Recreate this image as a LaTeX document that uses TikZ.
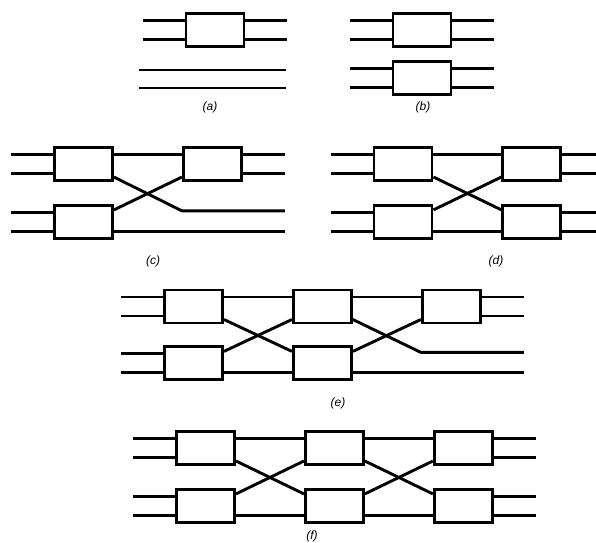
\documentclass[tikz,border=0pt]{standalone}
\usepackage{fontspec}
\setmainfont{Liberation Sans}
\usetikzlibrary{positioning, calc}

\begin{document}
\begin{tikzpicture}[
    x=1pt, y=1pt,
    wire/.style={line width=2.9pt},
    box/.style={draw, rectangle, line width=2.9pt, minimum width=58pt, minimum height=33pt, fill=white, inner sep=0pt},
    caption/.style={font=\fontsize{12}{14}\selectfont\itshape}
]
    \useasboundingbox (0,0) rectangle (596,542);

    % (a) one box and two bare lines
    \node[box] (a1) at (215,512) {};
    \coordinate (abare) at (139,472);
    \draw[wire] (abare) -- ++(147,0);
    \draw[wire] ($(abare)+(0,-18)$) -- ++(147,0);
    \node[caption] (capa) at (210,435) {(a)};

    % (b) two boxes stacked
    \node[box] (b1) at (422,512) {};
    \node[box, below=12pt of b1] (b2) {};
    \node[caption] (capb) at (423,435) {(b)};

    % (c) three boxes
    \node[box] (c1) at (83.5,378) {};
    \node[box, right=68pt of c1] (c2) {};
    \node[box, below=22pt of c1] (c3) {};
    \coordinate (cbend) at ($(c2.west |- c3.center)+(0,11)$);
    \draw[wire] ([yshift=9.5pt]c1.east) -- ([yshift=9.5pt]c2.west);
    \draw[wire] ([yshift=-13pt]c1.east) -- (cbend) -- ++(103,0);
    \draw[wire] ([yshift=12pt]c3.east) -- ([yshift=-13pt]c2.west);
    \draw[wire] ([yshift=-9.5pt]c3.east) -- ++(171,0);
    \node[caption] (capc) at (153,281) {(c)};

    % (d) four boxes
    \node[box] (d1) at (403,378) {};
    \node[box, right=68pt of d1] (d2) {};
    \node[box, below=22pt of d1] (d3) {};
    \node[box, below=22pt of d2] (d4) {};
    \draw[wire] ([yshift=9.5pt]d1.east) -- ([yshift=9.5pt]d2.west);
    \draw[wire] ([yshift=-13pt]d1.east) -- ([yshift=12pt]d4.west);
    \draw[wire] ([yshift=12pt]d3.east) -- ([yshift=-13pt]d2.west);
    \draw[wire] ([yshift=-9.5pt]d3.east) -- ([yshift=-9.5pt]d4.west);
    \node[caption] (capd) at (496,281) {(d)};

    % (e) five boxes
    \node[box] (e1) at (193.5,235.5) {};
    \node[box, right=68pt of e1] (e2) {};
    \node[box, right=68pt of e2] (e3) {};
    \node[box, below=21pt of e1] (e4) {};
    \node[box, below=21pt of e2] (e5) {};
    \coordinate (ebend) at ($(e3.west |- e5.center)+(0,11)$);
    \draw[wire] ([yshift=9.5pt]e1.east) -- ([yshift=9.5pt]e2.west);
    \draw[wire] ([yshift=9.5pt]e2.east) -- ([yshift=9.5pt]e3.west);
    \draw[wire] ([yshift=-13pt]e1.east) -- ([yshift=12pt]e5.west);
    \draw[wire] ([yshift=12pt]e4.east) -- ([yshift=-13pt]e2.west);
    \draw[wire] ([yshift=-13pt]e2.east) -- (ebend) -- ++(103,0);
    \draw[wire] ([yshift=12pt]e5.east) -- ([yshift=-13pt]e3.west);
    \draw[wire] ([yshift=-9.5pt]e4.east) -- ([yshift=-9.5pt]e5.west);
    \draw[wire] ([yshift=-9.5pt]e5.east) -- ++(171,0);
    \node[caption] (cape) at (338,139) {(e)};

    % (f) six boxes
    \node[box] (f1) at (205.5,94) {};
    \node[box, right=68pt of f1] (f2) {};
    \node[box, right=68pt of f2] (f3) {};
    \node[box, below=22pt of f1] (f4) {};
    \node[box, below=22pt of f2] (f5) {};
    \node[box, below=22pt of f3] (f6) {};
    \draw[wire] ([yshift=9.5pt]f1.east) -- ([yshift=9.5pt]f2.west);
    \draw[wire] ([yshift=9.5pt]f2.east) -- ([yshift=9.5pt]f3.west);
    \draw[wire] ([yshift=-13pt]f1.east) -- ([yshift=12pt]f5.west);
    \draw[wire] ([yshift=12pt]f4.east) -- ([yshift=-13pt]f2.west);
    \draw[wire] ([yshift=-13pt]f2.east) -- ([yshift=12pt]f6.west);
    \draw[wire] ([yshift=12pt]f5.east) -- ([yshift=-13pt]f3.west);
    \draw[wire] ([yshift=-9.5pt]f4.east) -- ([yshift=-9.5pt]f5.west);
    \draw[wire] ([yshift=-9.5pt]f5.east) -- ([yshift=-9.5pt]f6.west);
    \node[caption] (capf) at (312,6) {(f)};

    % stubs on the free sides
    \foreach \b in {a1,b1,b2,c1,c3,d1,d3,e1,e4,f1,f4}
        \foreach \dy in {9.5,-9.5}
            \draw[wire] ([yshift=\dy pt]\b.west) -- ++(-42,0);
    \foreach \b in {a1,b1,b2,c2,d2,d4,e3,f3,f6}
        \foreach \dy in {9.5,-9.5}
            \draw[wire] ([yshift=\dy pt]\b.east) -- ++(42,0);

\end{tikzpicture}
\end{document}
